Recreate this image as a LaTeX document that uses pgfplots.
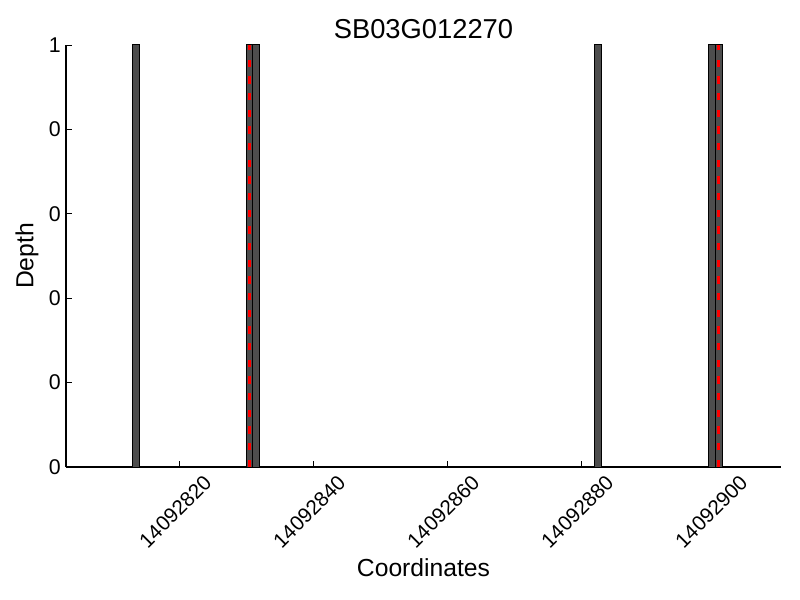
\documentclass[border=0pt]{standalone}
\usepackage{pgfplots}
\pgfplotsset{compat=1.18}
\usepackage{fontspec}
\setmainfont{Liberation Sans}
\definecolor{bargray}{RGB}{77,77,77}
\begin{document}
\begin{tikzpicture}
\useasboundingbox (-49.5pt,-99.75pt) rectangle (550.5pt,350.25pt);
\begin{axis}[
  at={(0,0)}, anchor=south west,
  scale only axis, width=536.25pt, height=316.5pt,
  xmin=3.1, xmax=109.8, ymin=0, ymax=1,
  axis x line*=bottom, axis y line*=left,
  axis line style={-, line width=0.9pt},
  xtick={20,40,60,80,100},
  xticklabels={14092820,14092840,14092860,14092880,14092900},
  ytick={0,0.2,0.4,0.6,0.8,1},
  yticklabels={0,0,0,0,0,1},
  tick align=inside, major tick length=4.5pt,
  tick style={black, line width=0.6pt},
  /pgf/number format/assume math mode=true,
  x tick label style={xshift=-3pt, yshift=-33.5pt, rotate=45, anchor=center, font=\fontsize{15.5}{18}\selectfont},
  y tick label style={font=\fontsize{16}{19}\selectfont, xshift=-0.5pt},
  xlabel={Coordinates}, ylabel={Depth},
  xlabel style={at={(axis description cs:0.5,0)}, anchor=center, yshift=-75.75pt, font=\fontsize{18.5}{22}\selectfont},
  ylabel style={at={(axis description cs:0,0.5)}, anchor=center, yshift=29.25pt, font=\fontsize{18.5}{22}\selectfont},
  title={SB03G012270},
  title style={font=\fontsize{20.5}{24}\selectfont, yshift=-5pt},
  clip=false,
]
\addplot[ybar, bar width=1, fill=bargray, draw=black, line width=0.75pt] coordinates {
  (13.5,1) (30.5,1) (31.5,1) (82.5,1) (99.5,1) (100.5,1)
};
\addplot[red, line width=2.6pt, dash pattern=on 5.5pt off 7pt] coordinates {(30.5,0) (30.5,1)};
\addplot[red, line width=2.6pt, dash pattern=on 5.5pt off 7pt] coordinates {(100.5,0) (100.5,1)};
\end{axis}
\end{tikzpicture}
\end{document}
